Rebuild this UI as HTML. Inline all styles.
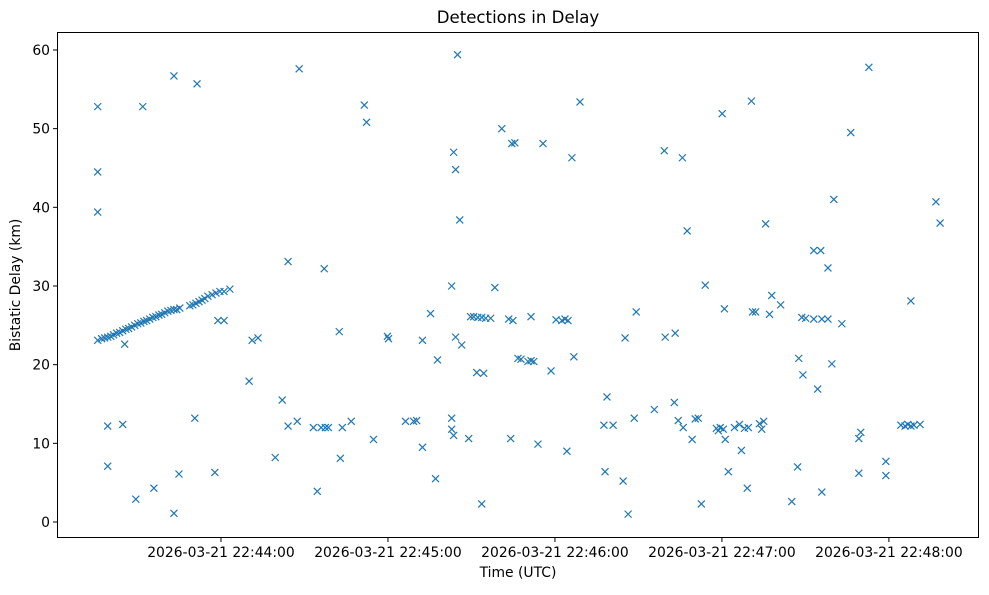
<!DOCTYPE html>
<html><head><meta charset="utf-8"><style>
body{margin:0;background:#fff;}
svg text{font-family:"DejaVu Sans","Liberation Sans",sans-serif;fill:#000;}
</style></head><body>
<svg id="chart" width="989" height="590" xmlns="http://www.w3.org/2000/svg">
<rect x="0" y="0" width="989" height="590" fill="#fff"/>
<text x="518" y="23" font-size="16.6" text-anchor="middle">Detections in Delay</text>
<text x="518" y="577" font-size="13.9" text-anchor="middle">Time (UTC)</text>
<text x="0" y="0" font-size="13.9" text-anchor="middle" transform="translate(20,285) rotate(-90)">Bistatic Delay (km)</text>
<g id="ticks"></g>
<g id="marks"></g>
<rect x="57.5" y="32.5" width="921" height="505" fill="none" stroke="#000" stroke-width="1"/>
</svg>
<script>
// seconds after 22:43:00 UTC
const times = [15.7,15.7,15.7,15.7,17.1,18.2,19.3,20.4,21.4,22.5,23.6,24.7,25.8,26.8,27.9,29.0,30.1,31.2,32.3,33.3,34.4,35.5,36.6,37.7,38.7,39.8,40.9,42.0,43.1,44.1,45.2,48.8,49.9,51.0,52.1,53.2,54.2,55.3,56.8,58.2,59.6,61.1,63.2,
19.3,19.3,24.7,25.4,29.4,31.9,35.9,43.1,43.1,44.9,50.6,51.4,57.8,58.9,61.1,70.1,71.2,73.3,79.5,82.0,84.1,84.1,87.4,88.1,93.2,94.6,96.0,97.1,97.5,98.6,102.5,102.9,103.6,106.8,111.5,112.3,114.8,119.8,120.2,126.3,129.2,130.3,132.4,132.4,135.3,137.1,137.8,
142.9,142.9,142.9,143.6,143.6,144.3,144.3,145.0,145.8,146.5,149.0,149.7,150.8,151.9,152.3,153.7,153.7,154.4,155.1,156.9,158.4,160.9,163.4,164.1,164.5,164.9,165.6,166.7,167.8,170.3,171.4,171.4,172.4,173.9,175.7,178.6,180.4,182.5,183.6,184.3,184.7,186.1,186.8,189.0,
197.6,198.0,198.7,200.9,204.5,205.2,206.3,208.5,209.2,215.7,219.3,219.6,222.9,223.2,224.3,225.8,226.1,227.5,229.3,230.4,231.5,232.6,234.0,238.0,238.7,239.4,240.1,240.5,240.9,241.2,242.3,244.5,246.3,247.0,248.1,249.1,249.5,250.6,251.0,252.1,253.5,254.3,255.0,255.7,257.1,257.9,261.1,
265.1,267.2,267.6,268.7,269.1,270.1,273.0,273.0,274.4,275.5,275.9,275.9,278.1,278.1,279.5,280.2,283.1,286.3,289.2,289.2,289.9,292.8,298.9,298.9,304.3,305.8,306.8,307.9,307.9,309.0,311.2,316.9,318.4];
const delays = [52.8,44.5,39.4,23.1,23.3,23.4,23.5,23.6,23.8,24.0,24.1,24.3,24.5,24.6,24.8,25.0,25.2,25.3,25.5,25.6,25.8,26.0,26.1,26.3,26.4,26.6,26.8,26.9,27.0,27.0,27.2,27.5,27.6,27.8,28.0,28.2,28.4,28.7,28.9,29.1,29.3,29.3,29.6,
12.2,7.1,12.4,22.6,2.9,52.8,4.3,56.7,1.1,6.1,13.2,55.7,6.3,25.6,25.6,17.9,23.1,23.4,8.2,15.5,33.1,12.2,12.8,57.6,12.0,3.9,12.0,32.2,12.0,12.0,24.2,8.1,12.0,12.8,53.0,50.8,10.5,23.6,23.3,12.8,12.8,12.9,9.5,23.1,26.5,5.5,20.6,
30.0,13.2,11.8,11.0,47.0,44.8,23.5,59.4,38.4,22.5,10.6,26.1,26.1,19.0,26.0,2.3,26.0,18.9,25.9,25.9,29.8,50.0,25.8,10.6,48.1,25.6,48.2,20.8,20.7,20.4,26.1,20.5,20.4,9.9,48.1,19.2,25.7,25.6,25.8,9.0,25.6,46.3,21.0,53.4,
12.3,6.4,15.9,12.3,5.2,23.4,1.0,13.2,26.7,14.3,47.2,23.5,15.2,24.0,12.9,46.3,12.0,37.0,10.5,13.1,13.2,2.3,30.1,11.9,11.6,12.0,51.9,11.8,27.1,10.5,6.4,12.0,12.4,9.1,11.9,4.3,12.0,53.5,26.7,26.7,12.5,11.8,12.8,37.9,26.4,28.8,27.6,
2.6,7.0,20.8,26.0,18.7,25.9,34.5,25.8,16.9,34.5,3.8,25.8,32.3,25.8,20.1,41.0,25.2,49.5,10.6,6.2,11.4,57.8,7.7,5.9,12.3,12.2,12.4,28.1,12.2,12.3,12.4,40.7,38.0];
const xTickSecs = [60,120,180,240,300];
const xTickLabels = ["2026-03-21 22:44:00","2026-03-21 22:45:00","2026-03-21 22:46:00","2026-03-21 22:47:00","2026-03-21 22:48:00"];
const yTicks = [0,10,20,30,40,50,60];

const NS="http://www.w3.org/2000/svg";
const xs = s => 54 + s*2.783;
const ys = v => 522 - v*7.867;
const tg=document.getElementById('ticks');
const mg=document.getElementById('marks');
function mk(tag,attrs,parent){const e=document.createElementNS(NS,tag);for(const k in attrs)e.setAttribute(k,attrs[k]);parent.appendChild(e);return e;}
xTickSecs.forEach((s,i)=>{
  const x=xs(s);
  const l=mk('line',{x1:x,x2:x,y1:538,y2:542,stroke:'#000'},tg);
  
  
  const t=mk('text',{x:x,y:557,'font-size':13.9,'text-anchor':'middle'},tg);
  t.textContent=xTickLabels[i];
  
  
});
yTicks.forEach(v=>{
  const y=ys(v);
  const l=mk('line',{x1:53,x2:57,y1:y,y2:y,stroke:'#000'},tg);
  
  
  const t=mk('text',{x:50,y:y+5,'font-size':13.9,'text-anchor':'end'},tg);
  t.textContent=v;
  
  
});
times.forEach((s,i)=>{
  const x=xs(s), y=ys(delays[i]), r=3.5;
  const p=mk('path',{d:`M${x-r},${y-r}L${x+r},${y+r}M${x-r},${y+r}L${x+r},${y-r}`,stroke:'#1f77b4','stroke-width':1.2,fill:'none'},mg);
  
  
});
</script>
</body></html>
